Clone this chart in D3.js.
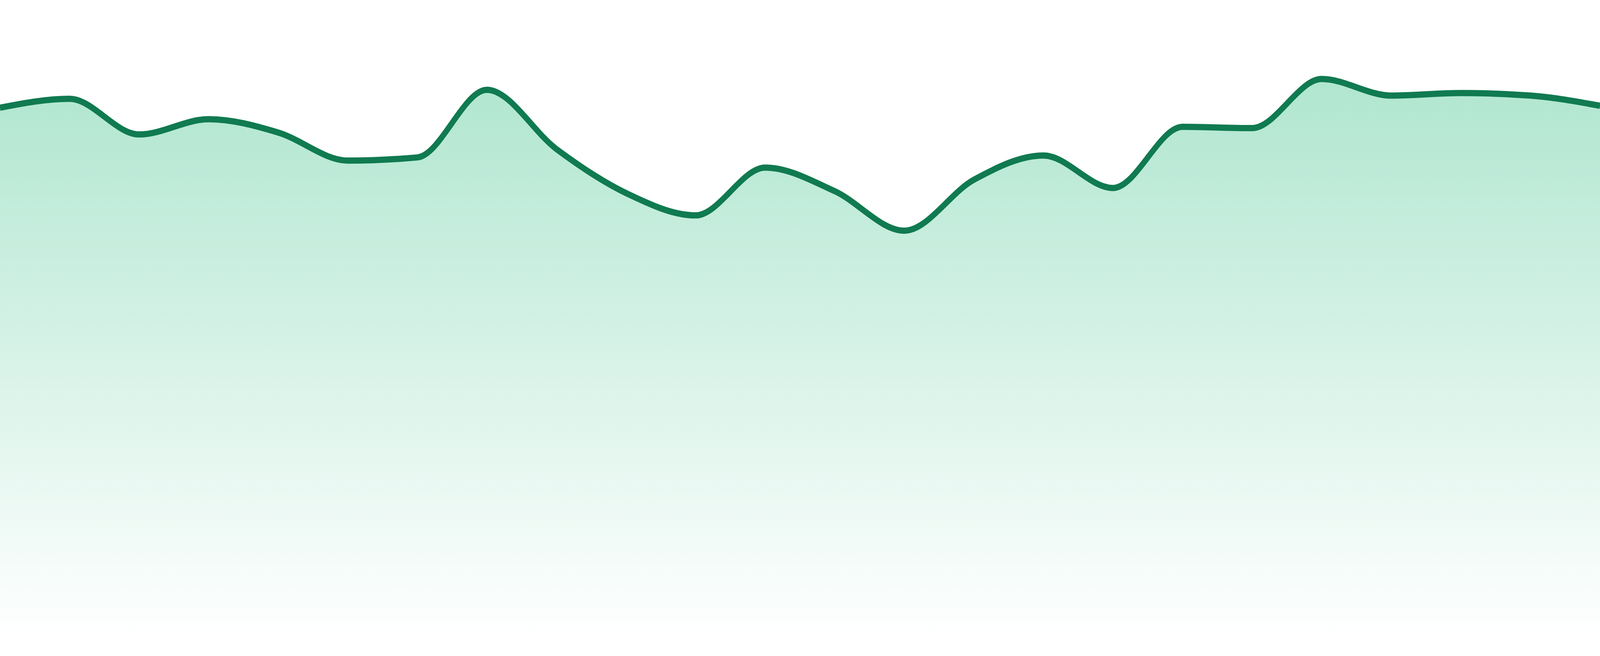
<!DOCTYPE html>
<html>
<head>
<meta charset="utf-8">
<script src="https://cdn.jsdelivr.net/npm/d3@7"></script>
<style>
  html, body { margin: 0; padding: 0; background: #fff; overflow: hidden; }
  svg { display: block; width: 100vw; height: 100vh; }
</style>
</head>
<body>
<script>
// values, one per evenly spaced point
var points = d3.range(24);
var values = [83.1, 84.5, 78.9, 81.3, 79.2, 74.8, 75.3, 85.9, 76.6, 69.7, 66.2, 73.7,
              70.0, 63.8, 71.8, 75.6, 70.5, 80.1, 79.9, 87.6, 85.0, 85.4, 85.0, 83.4];
var yDomain = [0, 100];

var totalWidth = 4800,
	totalHeight = 1680,
	margin = {top: 0, right: 0, bottom: 48, left: 0},
	dataWidth = totalWidth - margin.left - margin.right,
	dataHeight = totalHeight - margin.top - margin.bottom;

var data = points.map((p, i) => ({index: p, value: values[i]}));

var xScale = d3.scaleLinear()
	.domain([0, points.length - 1])
	.range([0, dataWidth]);

var yScale = d3.scaleLinear()
	.domain(yDomain)
	.range([dataHeight, 0]);

// drawn in a 4800x1680 box, stretched to whatever the window really is
var svg = d3.select("body").append("svg")
	.attr("viewBox", "0 0 " + totalWidth + " " + totalHeight)
	.attr("preserveAspectRatio", "none");

// fill fades from the highest point down to the baseline
var grad = svg.append("defs").append("linearGradient")
	.attr("id", "fillGrad")
	.attr("gradientUnits", "userSpaceOnUse")
	.attr("x1", 0).attr("x2", 0)
	.attr("y1", yScale(d3.max(values)))
	.attr("y2", yScale(0));
grad.append("stop").attr("offset", "0%").attr("stop-color", "#b0e6d0");
grad.append("stop").attr("offset", "100%").attr("stop-color", "#ffffff");

var g = svg.append("g")
	.attr("transform", "translate(" + margin.left + "," + margin.top + ")");

var area = d3.area()
	.x(d => xScale(d.index))
	.y0(yScale(0))
	.y1(d => yScale(d.value))
	.curve(d3.curveMonotoneX);

var line = d3.line()
	.x(d => xScale(d.index))
	.y(d => yScale(d.value))
	.curve(d3.curveMonotoneX);

g.append("path")
	.datum(data)
	.attr("d", area)
	.style("fill", "url(#fillGrad)")
	.style("stroke", "none");

g.append("path")
	.datum(data)
	.attr("d", line)
	.style("fill", "none")
	.style("stroke", "#107a50")
	.style("stroke-width", 16)
	.style("stroke-linejoin", "round");
</script>
</body>
</html>
